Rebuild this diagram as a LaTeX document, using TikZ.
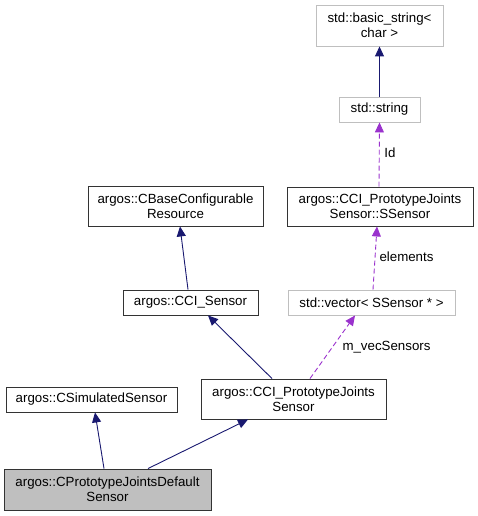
\documentclass[tikz,border=0pt]{standalone}
\usepackage{fontspec}
\setmainfont{Liberation Sans}
\usetikzlibrary{arrows.meta}
\definecolor{edgeblue}{HTML}{191970}
\definecolor{edgeviolet}{HTML}{9A32CD}
\definecolor{boxgrey}{HTML}{BFBFBF}
\begin{document}
\begin{tikzpicture}[x=1pt, y=-1pt,
        every node/.style={font=\fontsize{13.3}{15}\selectfont, align=center, inner sep=0pt},
        cls/.style={draw=black!80, line width=0.9pt},
        ext/.style={draw=boxgrey, line width=0.9pt},
        inh/.style={draw=edgeblue, line width=0.9pt, -{Triangle[length=10pt, width=9pt]}},
        use/.style={draw=edgeviolet, line width=0.9pt, dash pattern=on 5pt off 3pt,
            -{Triangle[length=10pt, width=9pt]}}]
        \useasboundingbox (0, 0) rectangle (477, 516);
    
        \node (bstr) at (379.5, 25.5) [ext, minimum width=127pt, minimum height=41pt] {std::basic\_string<\\char >};
        \node (str) at (379.5, 109.5) [ext, minimum width=81pt, minimum height=25pt] {std::string};
        \node (ssensor) at (380, 206.5) [cls, minimum width=186pt, minimum height=39pt] {argos::CCI\_PrototypeJoints\\Sensor::SSensor};
        \node (cbase) at (175.5, 206) [cls, minimum width=175pt, minimum height=40pt] {argos::CBaseConfigurable\\Resource};
        \node (ccisensor) at (190.5, 302.5) [cls, minimum width=135pt, minimum height=25pt] {argos::CCI\_Sensor};
        \node (vec) at (371.5, 302.5) [ext, minimum width=167pt, minimum height=25pt] {std::vector< SSensor * >};
        \node (proto) at (293.5, 399) [cls, minimum width=185pt, minimum height=40pt] {argos::CCI\_PrototypeJoints\\Sensor};
        \node (csim) at (91.5, 399.5) [cls, minimum width=171pt, minimum height=25pt] {argos::CSimulatedSensor};
        \node (dflt) at (107.5, 489.5) [cls, fill=boxgrey, minimum width=207pt, minimum height=41pt] {argos::CPrototypeJointsDefault\\Sensor};
        
        \draw[inh] (str.north) -- (bstr.south);
        \draw[inh] ([xshift=-2.5pt]ccisensor.north) -- ([xshift=4.5pt]cbase.south);
        \draw[inh] ([xshift=-21.5pt]proto.north) -- ([xshift=17.5pt]ccisensor.south);
        \draw[inh] ([xshift=-3.5pt]dflt.north) -- ([xshift=3.5pt]csim.south);
        \draw[inh] ([xshift=40.5pt]dflt.north) -- ([xshift=-45.5pt]proto.south);
        
        \draw[use] ([xshift=-1pt]ssensor.north) -- (str.south);
        \draw[use] ([xshift=1.5pt]vec.north) -- ([xshift=-3pt]ssensor.south);
        \draw[use] ([xshift=16.5pt]proto.north) -- ([xshift=-16.5pt]vec.south);
        
        \node (lid) at (390, 153) {Id};
        \node (lelem) at (406.5, 257) {elements};
        \node (lvec) at (386.5, 347) {m\_vecSensors};
    \end{tikzpicture}
\end{document}
